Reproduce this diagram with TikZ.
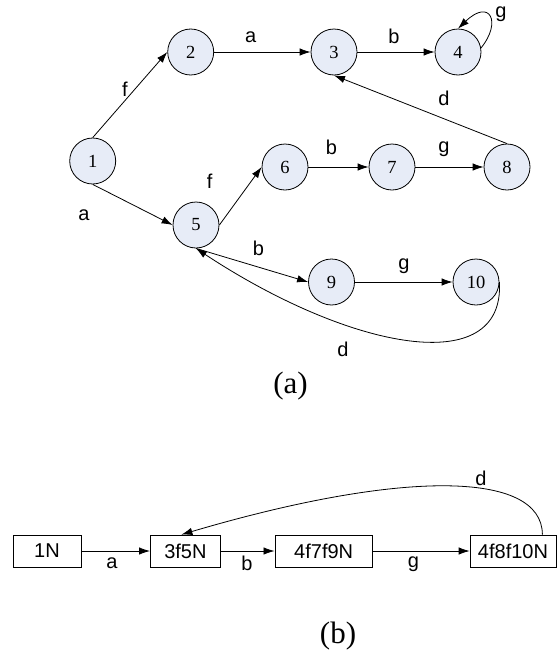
\documentclass[tikz,border=0pt]{standalone}
\usepackage{fontspec}
\setmainfont{Liberation Serif}
\setsansfont{Liberation Sans}
\usetikzlibrary{arrows.meta}
\definecolor{etatfond}{RGB}{231,236,247}

\begin{document}
\begin{tikzpicture}[x=1pt, y=-1pt, line width=0.8pt, >={Latex[length=11pt,width=7.5pt]},
	etat/.style={draw, circle, fill=etatfond, minimum size=46pt, inner sep=0pt, font=\rmfamily\fontsize{18.5}{18.5}\selectfont},
	boite/.style={draw, rectangle, minimum height=32pt, inner sep=0pt, font=\sffamily\fontsize{20}{20}\selectfont},
	lettre/.style={font=\sffamily\fontsize{20}{20}\selectfont},
	titre/.style={font=\rmfamily\fontsize{31}{31}\selectfont}]
					\useasboundingbox (0,0) rectangle (559,651);
					\node[etat] (e1) at (92.7,161) {1};
					\node[etat] (e2) at (190.7,52) {2};
					\node[etat] (e3) at (334,52) {3};
					\node[etat] (e4) at (458,52) {4};
					\node[etat] (e5) at (196,225) {5};
					\node[etat] (e6) at (285,167) {6};
					\node[etat] (e7) at (392,167) {7};
					\node[etat] (e8) at (507,167) {8};
					\node[etat] (e9) at (331.5,282) {9};
					\node[etat] (e10) at (476,282) {10};
					\draw[->] (e1.north) -- (e2.west);
					\draw[->] (e2) -- (e3);
					\draw[->] (e3) -- (e4);
					\draw[->] (e4.10) .. controls (502,22) and (490,-2) .. (e4.north);
					\draw[->] (e8.north) -- (e3.south);
					\draw[->] (e1.south) -- (e5.west);
					\draw[->] (e5.east) -- (e6.west);
					\draw[->] (e6) -- (e7);
					\draw[->] (e7) -- (e8);
					\draw[->] (e5.south) -- (e9.west);
					\draw[->] (e9) -- (e10);
					\draw[->] (e10.east) .. controls (505,380) and (350,350) .. (e5.south);
					\node[lettre] (l12) at (125,89) {f};
					\node[lettre] (l23) at (250.6,37) {a};
					\node[lettre] (l34) at (394,36.5) {b};
					\node[lettre] (l44) at (501,14.5) {g};
					\node[lettre] (l83) at (444,98) {d};
					\node[lettre] (l15) at (84,215) {a};
					\node[lettre] (l56) at (209.6,181.5) {f};
					\node[lettre] (l67) at (331.5,147) {b};
					\node[lettre] (l78) at (444,149.5) {g};
					\node[lettre] (l59) at (258.5,248) {b};
					\node[lettre] (l910) at (404,266.6) {g};
					\node[lettre] (l105) at (343,349) {d};
					\node[titre] (ta) at (290.5,386) {(a)};
					\node[boite, minimum width=68pt] (b1) at (47,551) {1N};
					\node[boite, minimum width=70pt] (b2) at (185.4,551) {3f5N};
					\node[boite, minimum width=97.6pt] (b3) at (323.7,551) {4f7f9N};
					\node[boite, minimum width=86pt] (b4) at (513,551) {4f8f10N};
					\draw[->] (b1) -- (b2);
					\draw[->] (b2) -- (b3);
					\draw[->] (b3) -- (b4);
					\draw[->] ([xshift=-14pt]b4.north east) .. controls (542,470) and (400,470) .. ([xshift=-4pt]b2.north);
					\node[lettre] (m12) at (112,563) {a};
					\node[lettre] (m23) at (247,563) {b};
					\node[lettre] (m34) at (413.5,564) {g};
					\node[lettre] (m42) at (481,478) {d};
					\node[titre] (tb) at (338,636) {(b)};
				\end{tikzpicture}
\end{document}
